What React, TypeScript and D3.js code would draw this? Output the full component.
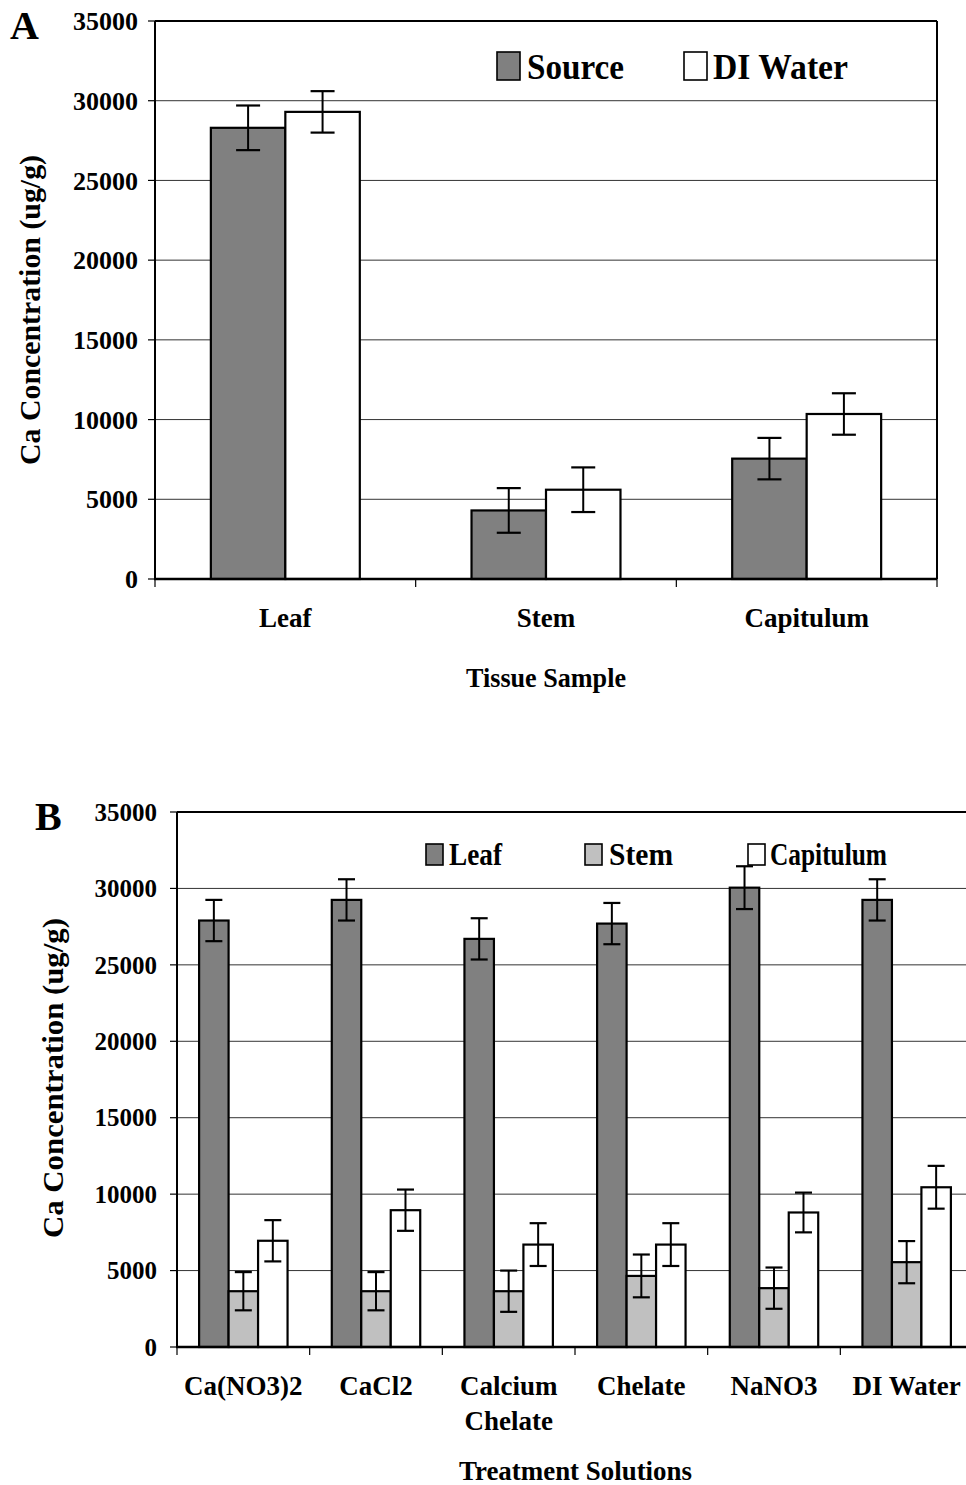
import React, { useEffect, useRef } from "react";
import * as d3 from "d3";

// Panel A: tissue samples
const tissueSamples = ["Leaf", "Stem", "Capitulum"];
const sourceMeans = [28300, 4300, 7550];
const sourceErrors = [1400, 1400, 1300];
const diWaterMeans = [29300, 5600, 10350];
const diWaterErrors = [1300, 1400, 1300];

// Panel B: treatment solutions
const treatments = ["Ca(NO3)2", "CaCl2", "Calcium Chelate", "Chelate", "NaNO3", "DI Water"];
const leafMeans = [27900, 29250, 26700, 27700, 30050, 29250];
const leafErrors = [1350, 1350, 1350, 1350, 1400, 1350];
const stemMeans = [3650, 3650, 3650, 4650, 3850, 5550];
const stemErrors = [1250, 1250, 1350, 1400, 1350, 1380];
const capitulumMeans = [6950, 8950, 6700, 6700, 8800, 10450];
const capitulumErrors = [1350, 1350, 1400, 1400, 1300, 1400];

const yTicks = [0, 5000, 10000, 15000, 20000, 25000, 30000, 35000];

const FONT = "'Liberation Serif', 'Times New Roman', serif";
const DARK = "#808080";
const LIGHT = "#c0c0c0";

function drawPanel(svg, o) {
  const g = svg.append("g");
  const x = d3.scaleBand().domain(o.categories).range([o.left, o.right]);
  const inner = d3.scaleBand()
    .domain(o.series.map(s => s.name))
    .range([0, x.bandwidth()])
    .paddingInner(0)
    .paddingOuter(0.75);
  const y = d3.scaleLinear().domain([0, 35000]).range([o.bottom, o.top]);

  // gridlines
  g.selectAll("line.grid")
    .data(yTicks.filter(t => t > 0 && t < 35000))
    .enter().append("line")
    .attr("x1", o.left).attr("x2", o.right)
    .attr("y1", d => y(d)).attr("y2", d => y(d))
    .attr("stroke", "#333").attr("stroke-width", 1);

  // bars + error bars
  o.series.forEach(s => {
    const sg = g.append("g");
    sg.selectAll("rect")
      .data(s.values)
      .enter().append("rect")
      .attr("x", (d, i) => x(o.categories[i]) + inner(s.name))
      .attr("y", d => y(d))
      .attr("width", inner.bandwidth())
      .attr("height", d => y(0) - y(d))
      .attr("fill", s.fill)
      .attr("stroke", "#000")
      .attr("stroke-width", 2.2);

    s.values.forEach((v, i) => {
      const cx = x(o.categories[i]) + inner(s.name) + inner.bandwidth() / 2;
      const e = s.errors[i];
      sg.append("line").attr("x1", cx).attr("x2", cx)
        .attr("y1", y(v + e)).attr("y2", y(v - e))
        .attr("stroke", "#000").attr("stroke-width", 2);
      [v + e, v - e].forEach(t => {
        sg.append("line")
          .attr("x1", cx - o.cap / 2).attr("x2", cx + o.cap / 2)
          .attr("y1", y(t)).attr("y2", y(t))
          .attr("stroke", "#000").attr("stroke-width", 2.2);
      });
    });
  });

  // frame
  g.append("line").attr("x1", o.left).attr("x2", o.right)
    .attr("y1", o.top).attr("y2", o.top)
    .attr("stroke", "#000").attr("stroke-width", 2);
  g.append("line").attr("x1", o.right).attr("x2", o.right)
    .attr("y1", o.top).attr("y2", o.bottom)
    .attr("stroke", "#000").attr("stroke-width", 2);
  g.append("line").attr("x1", o.left).attr("x2", o.left)
    .attr("y1", o.top).attr("y2", o.bottom)
    .attr("stroke", "#000").attr("stroke-width", 2);
  g.append("line").attr("x1", o.left - 1).attr("x2", o.right)
    .attr("y1", o.bottom).attr("y2", o.bottom)
    .attr("stroke", "#000").attr("stroke-width", 2.6);

  // y ticks
  yTicks.forEach(t => {
    g.append("line").attr("x1", o.left - 7).attr("x2", o.left)
      .attr("y1", y(t)).attr("y2", y(t))
      .attr("stroke", "#000").attr("stroke-width", 1.2);
    g.append("text")
      .attr("x", o.tickLabelX).attr("y", y(t))
      .attr("dy", "0.35em")
      .attr("text-anchor", "end")
      .attr("font-family", FONT).attr("font-weight", "bold")
      .attr("font-size", o.tickFont)
      .text(t);
  });

  // x ticks at band edges
  o.categories.concat(["end"]).forEach((c, i) => {
    const xx = o.left + i * x.step();
    g.append("line").attr("x1", xx).attr("x2", xx)
      .attr("y1", o.bottom).attr("y2", o.bottom + 8)
      .attr("stroke", "#000").attr("stroke-width", 1.2);
  });

  // category labels (long names wrap)
  o.categories.forEach(c => {
    const lines = c.length > 10 ? c.split(" ") : [c];
    const t = g.append("text")
      .attr("text-anchor", "middle")
      .attr("font-family", FONT).attr("font-weight", "bold")
      .attr("font-size", 27);
    lines.forEach((l, k) => {
      t.append("tspan")
        .attr("x", x(c) + x.bandwidth() / 2)
        .attr("y", o.catLabelY + k * 35)
        .text(l);
    });
  });

  // axis titles
  g.append("text")
    .attr("x", (o.left + Math.min(o.right, 966)) / 2 + o.xTitleShift)
    .attr("y", o.xTitleY)
    .attr("text-anchor", "middle")
    .attr("font-family", FONT).attr("font-weight", "bold")
    .attr("font-size", 27)
    .attr("textLength", o.xTitleLen).attr("lengthAdjust", "spacingAndGlyphs")
    .text(o.xTitle);

  g.append("text")
    .attr("transform", `translate(${o.yTitleX},${o.yTitleCY}) rotate(-90)`)
    .attr("text-anchor", "middle")
    .attr("font-family", FONT).attr("font-weight", "bold")
    .attr("font-size", 29)
    .attr("textLength", o.yTitleLen).attr("lengthAdjust", "spacingAndGlyphs")
    .text("Ca Concentration (ug/g)");

  // panel letter
  g.append("text")
    .attr("x", o.letterX).attr("y", o.letterY)
    .attr("font-family", FONT).attr("font-weight", "bold")
    .attr("font-size", 40)
    .text(o.letter);

  // legend
  o.series.forEach((s, i) => {
    const L = o.legend[i];
    g.append("rect")
      .attr("x", L.x).attr("y", o.legendTop)
      .attr("width", o.legendBox[0]).attr("height", o.legendBox[1])
      .attr("fill", s.fill).attr("stroke", "#000").attr("stroke-width", 1.6);
    g.append("text")
      .attr("x", L.tx).attr("y", o.legendBaseline)
      .attr("font-family", FONT).attr("font-weight", "bold")
      .attr("font-size", o.legendFont)
      .attr("textLength", L.len).attr("lengthAdjust", "spacingAndGlyphs")
      .text(s.name);
  });
}

const App = () => {
  const ref = useRef(null);

  useEffect(() => {
    const svg = d3.select(ref.current);
    svg.selectAll("*").remove();
    svg.append("rect").attr("width", 966).attr("height", 1485).attr("fill", "#fff");

    drawPanel(svg, {
      categories: tissueSamples,
      series: [
        { name: "Source", values: sourceMeans, errors: sourceErrors, fill: DARK },
        { name: "DI Water", values: diWaterMeans, errors: diWaterErrors, fill: "#fff" },
      ],
      left: 155, right: 937, top: 21, bottom: 579,
      cap: 24, tickFont: 26, tickLabelX: 138,
      catLabelY: 627,
      xTitle: "Tissue Sample", xTitleY: 687, xTitleLen: 160, xTitleShift: 0,
      yTitleX: 40, yTitleCY: 310, yTitleLen: 310,
      letter: "A", letterX: 10, letterY: 39,
      legend: [
        { x: 497, tx: 527, len: 97 },
        { x: 684, tx: 713, len: 135 },
      ],
      legendTop: 52, legendBox: [23, 28], legendBaseline: 79, legendFont: 36,
    });

    drawPanel(svg, {
      categories: treatments,
      series: [
        { name: "Leaf", values: leafMeans, errors: leafErrors, fill: DARK },
        { name: "Stem", values: stemMeans, errors: stemErrors, fill: LIGHT },
        { name: "Capitulum", values: capitulumMeans, errors: capitulumErrors, fill: "#fff" },
      ],
      left: 177, right: 973, top: 812, bottom: 1347,
      cap: 17, tickFont: 25, tickLabelX: 157,
      catLabelY: 1395,
      xTitle: "Treatment Solutions", xTitleY: 1480, xTitleLen: 233, xTitleShift: 4,
      yTitleX: 63, yTitleCY: 1078, yTitleLen: 320,
      letter: "B", letterX: 35, letterY: 830,
      legend: [
        { x: 426, tx: 449, len: 53 },
        { x: 585, tx: 609, len: 64 },
        { x: 748, tx: 770, len: 117 },
      ],
      legendTop: 844, legendBox: [17, 21], legendBaseline: 865, legendFont: 31,
    });
  }, []);

  return (
    <svg
      ref={ref}
      width={966}
      height={1485}
      style={{ position: "absolute", left: 0, top: 0 }}
    />
  );
};

export default App;
